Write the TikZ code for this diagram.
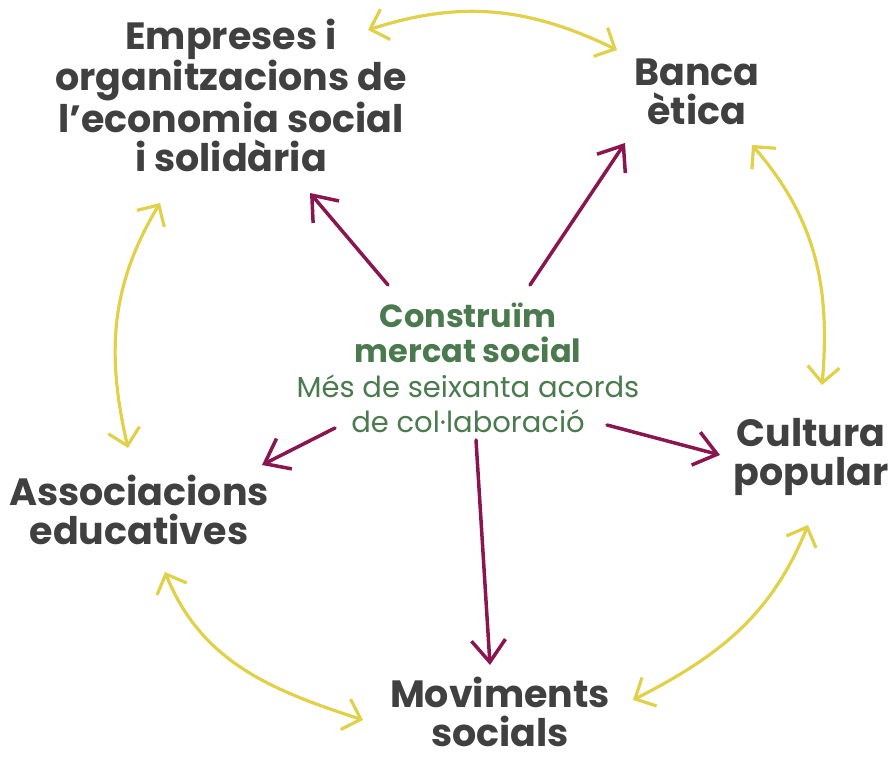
\documentclass[tikz,border=0pt]{standalone}
\usepackage{fontspec}
\setmainfont{Poppins}
\usetikzlibrary{arrows.meta}
\definecolor{textgrey}{HTML}{404040}
\definecolor{sagegreen}{HTML}{4B7A4F}
\definecolor{wine}{HTML}{8A1650}
\definecolor{mustard}{HTML}{E1D14A}
\tikzset{
  actor/.style={align=center, text=textgrey, inner sep=1pt,
    font=\bfseries\fontsize{38}{38.5}\selectfont},
  hub/.style={align=center, text=sagegreen, inner sep=2pt,
    font=\fontsize{29}{35}\selectfont},
  link/.style={wine, line width=3.5pt, line cap=round,
    -{Straight Barb[length=22pt,width=34pt]}},
  tie/.style={mustard, line width=3.2pt, line cap=round,
    {Straight Barb[length=16pt,width=32pt]}-{Straight Barb[length=16pt,width=32pt]}},
}

\begin{document}
\begin{tikzpicture}[x=1pt, y=1pt]
    \useasboundingbox (0,0) rectangle (894,759);
    % the five partners
    \node[actor] (empreses) at (231,664) {Empreses i\\organitzacions de\\l’economia social\\i solidària};
    \node[actor] (banca) at (697,667) {Banca\\ètica};
    \node[actor] (cultura) at (811,302) {Cultura\\popular};
    \node[actor] (moviments) at (500,47) {Moviments\\socials};
    \node[actor] (associacions) at (139,249) {Associacions\\educatives};
    % the hub
    \node[hub] (mercat) at (468,391) {\fontsize{32}{35}\selectfont\textbf{Construïm}\\\fontsize{32}{35}\selectfont\textbf{mercat social}\\Més de seixanta acords\\de col·laboració};

    % arrows out of the hub
    \draw[link] ([shift={(-80,83)}]mercat.center) -- ([shift={(79,-98)}]empreses.center);
    \draw[link] ([shift={(62,83)}]mercat.center) -- ([shift={(-72,-51)}]banca.center);
    \draw[link] ([shift={(-133,-60)}]mercat.center) -- ([shift={(123,45)}]associacions.center);
    \draw[link] ([shift={(139,-57)}]mercat.center) -- ([shift={(-91,2)}]cultura.center);
    \draw[link] ([shift={(8,-72)}]mercat.center) -- ([shift={(-10,47)}]moviments.center);

    % ring of partners
    \draw[tie] ([shift={(137,65)}]empreses.center) to[out=18, in=154] ([shift={(-80,42)}]banca.center);
    \draw[tie] ([shift={(55,-53)}]banca.center) to[out=-49, in=85] ([shift={(11,72)}]cultura.center);
    \draw[tie] ([shift={(-3,-68)}]cultura.center) to[out=-112, in=27] ([shift={(133,12)}]moviments.center);
    \draw[tie] ([shift={(-137,-8)}]moviments.center) to[out=162, in=-68] ([shift={(26,-62)}]associacions.center);
    \draw[tie] ([shift={(-11,62)}]associacions.center) to[out=103, in=-121] ([shift={(-71,-108)}]empreses.center);
\end{tikzpicture}
\end{document}
